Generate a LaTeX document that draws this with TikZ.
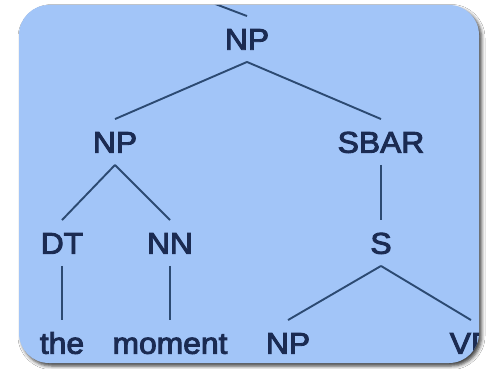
\documentclass[tikz,border=0pt]{standalone}
\usepackage{fontspec}
\setmainfont{Liberation Sans}
\newfontfamily\catfont{Liberation Sans}[FakeBold=3]
\usetikzlibrary{shadows.blur}

\definecolor{panelblue}{HTML}{A2C5F8}
\definecolor{labelink}{HTML}{1B2B52}
\definecolor{edgeink}{HTML}{2C4A72}

\tikzset{
  panel/.style={fill=panelblue, rounded corners=30pt,
    blur shadow={shadow xshift=2.5pt, shadow yshift=-3pt,
      shadow blur radius=3.5pt, shadow opacity=75}},
  cat/.style={text=labelink, font=\catfont\fontsize{30}{30}\selectfont,
    text height=21.5pt, text depth=0pt, inner ysep=12pt, inner xsep=0pt,
    xscale=1.06},
  edge/.style={draw=edgeink, line width=1.9pt}
}

\begin{document}
\begin{tikzpicture}[x=1pt, y=-1pt]
  \useasboundingbox (0,0) rectangle (487,369);
  \fill[white] (0,0) rectangle (487,369);

  % panel
  \path[panel] (19,5) rectangle (479,363);

  \begin{scope}
    \clip[rounded corners=30pt] (19,5) rectangle (479,363);

    % tree labels
    \node[cat] (np0)    at (247,39)  {NP};
    \node[cat] (npl)    at (115,142) {NP};
    \node[cat] (sbar)   at (381,142) {SBAR};
    \node[cat] (dt)     at (62,243)  {DT};
    \node[cat] (nn)     at (170,243) {NN};
    \node[cat] (s)      at (381,243) {S};
    \node[cat] (the)    at (62,343)  {the};
    \node[cat] (moment) at (170,343) {moment};
    \node[cat] (np2)    at (288,343) {NP};
    \node[cat] (vp)     at (471,343) {VP};
    \coordinate (up) at (189,-6);

    % branches
    \draw[edge] (up) -- (np0.north);
    \draw[edge] (np0.south) -- (npl.north);
    \draw[edge] (np0.south) -- (sbar.north);
    \draw[edge] (npl.south) -- (dt.north);
    \draw[edge] (npl.south) -- (nn.north);
    \draw[edge] (sbar.south) -- (s.north);
    \draw[edge] (dt.south) -- (the.north);
    \draw[edge] (nn.south) -- (moment.north);
    \draw[edge] (s.south) -- (np2.north);
    \draw[edge] (s.south) -- (vp.north);
  \end{scope}
\end{tikzpicture}
\end{document}
